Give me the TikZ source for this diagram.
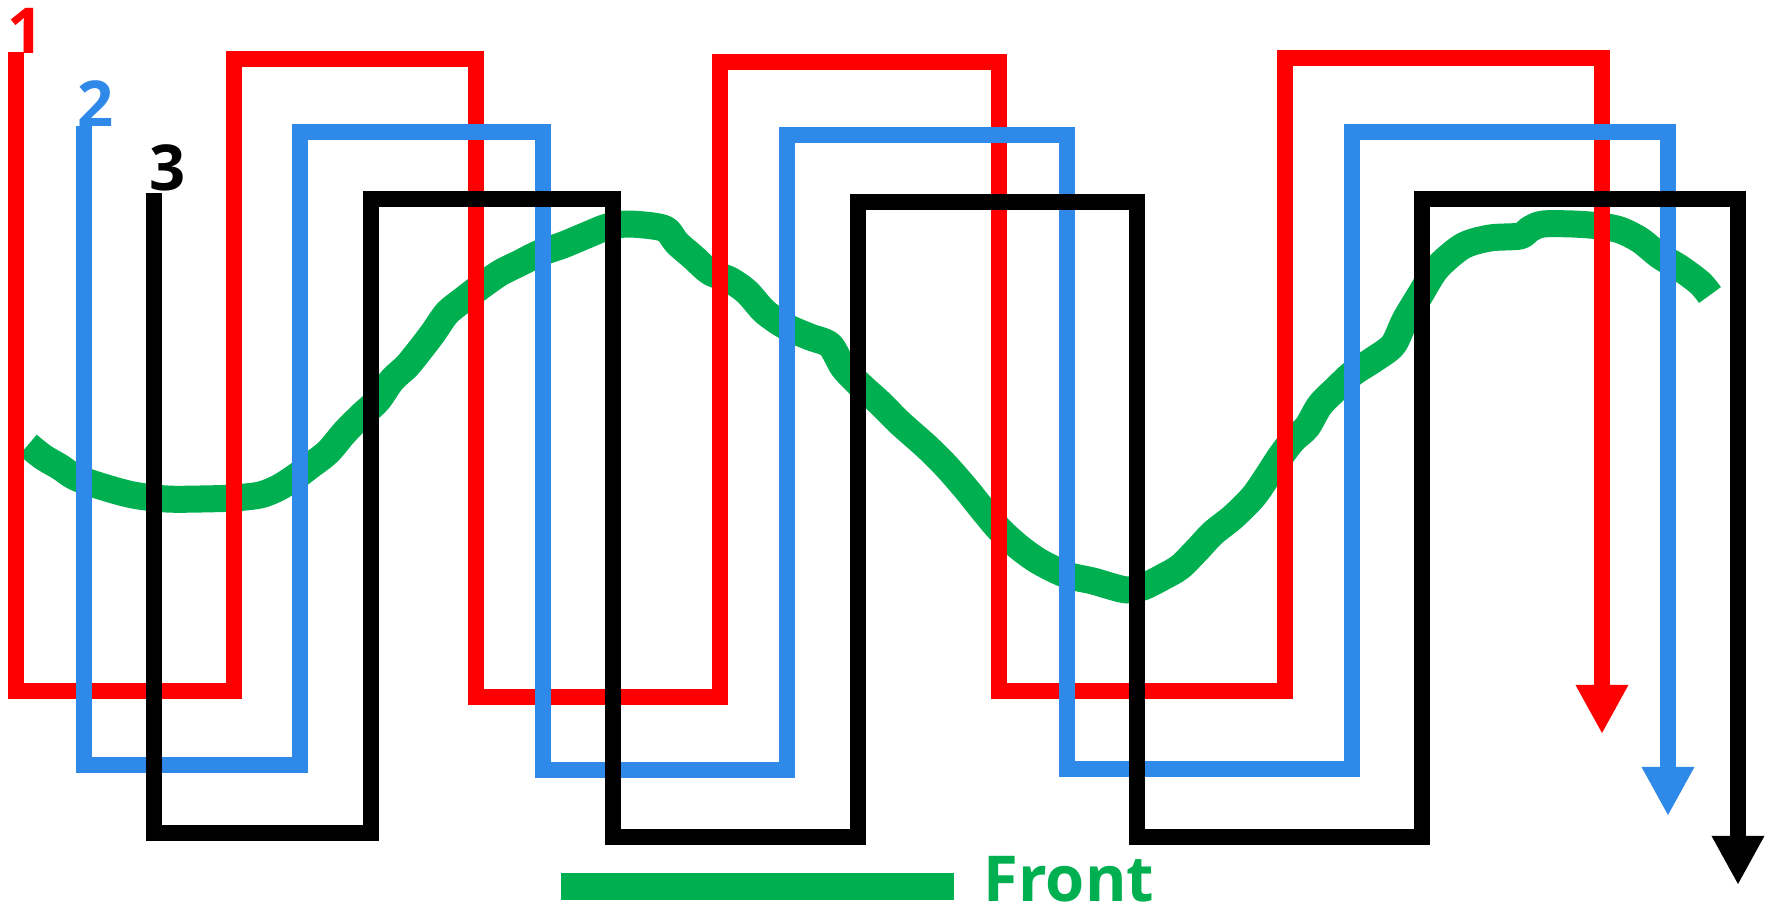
\documentclass[tikz,border=0pt]{standalone}
\usepackage{fontspec}
\setmainfont{Open Sans}
\usetikzlibrary{arrows.meta}
\definecolor{strandred}{RGB}{255,0,0}
\definecolor{strandblue}{RGB}{46,137,232}
\definecolor{frontgreen}{RGB}{0,176,80}
\begin{document}
\begin{tikzpicture}[x=.01cm,y=-.01cm,strand/.style={line width=.16cm},tip/.style={-{Triangle[width=.49cm,length=.49cm]}},num/.style={inner sep=0,font=\fontsize{18pt}{20pt}\selectfont\bfseries}]
\useasboundingbox(0,0)rectangle(1771,920);
\draw[frontgreen,line width=.27cm,line join=round]plot[smooth,tension=.5]coordinates{(28,445)(43,457)(60,467)(75,477)(100,486)(133,495)(167,499)(200,499)(233,498)(260,495)(278,488)(294,478)(310,466)(328,452)(345,432)(362,415)(378,400)(392,380)(407,366)(420,350)(433,333)(447,313)(463,300)(480,287)(500,273)(520,263)(540,253)(563,245)(587,235)(607,227)(627,224)(653,226)(667,230)(677,243)(693,257)(710,272)(730,280)(747,292)(765,312)(787,327)(810,337)(830,345)(843,367)(858,383)(880,403)(900,423)(927,447)(947,467)(967,490)(983,510)(1000,530)(1020,548)(1040,562)(1067,575)(1093,581)(1110,586)(1127,590)(1143,587)(1163,577)(1180,567)(1197,550)(1213,533)(1233,517)(1253,497)(1267,477)(1280,457)(1293,440)(1307,427)(1320,405)(1337,388)(1353,373)(1373,360)(1393,345)(1405,320)(1420,295)(1437,268)(1463,246)(1490,238)(1520,236)(1530,229)(1543,224)(1573,224)(1600,226)(1620,230)(1640,240)(1660,256)(1680,268)(1700,283)(1710,295)};
\draw[strand,tip,strandred](16,52)--(16,691)--(234,691)--(234,59)--(476,59)--(476,697)--(720,697)--(720,62)--(999,62)--(999,691)--(1285,691)--(1285,58)--(1602,58)--(1602,734);
\draw[strand,tip,strandblue](84,126)--(84,765)--(300,765)--(300,132)--(543,132)--(543,770)--(787,770)--(787,135)--(1067,135)--(1067,769)--(1352,769)--(1352,132)--(1668,132)--(1668,816);
\draw[strand,tip,black](154,193)--(154,833)--(371,833)--(371,199)--(613,199)--(613,837)--(858,837)--(858,202)--(1137,202)--(1137,837)--(1422,837)--(1422,199)--(1738,199)--(1738,885);
\node[num,strandred](one)at(26,31){1};\node[num,strandblue](two)at(96,104){2};\node[num,black](three)at(168,168){3};
\draw[frontgreen,line width=.27cm](561,886)--(954,886);\node[num,anchor=base west,frontgreen](front)at(983,901){Front};
\end{tikzpicture}
\end{document}
